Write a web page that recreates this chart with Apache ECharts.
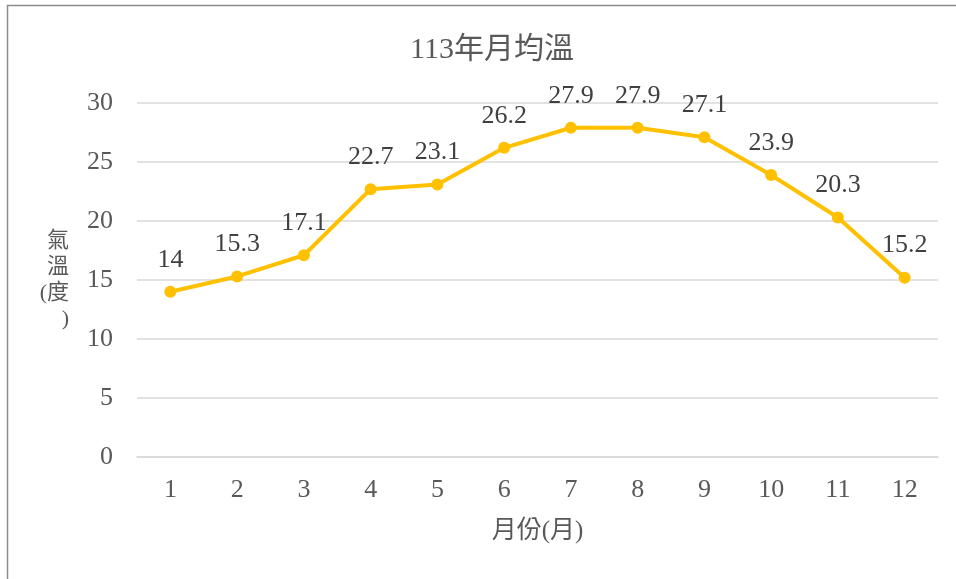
<!DOCTYPE html>
<html><head><meta charset="utf-8">
<script src="https://cdn.jsdelivr.net/npm/echarts@6/dist/echarts.min.js"></script>
<style>html,body{margin:0;padding:0;background:#fff}#c{width:956px;height:579px}</style>
</head><body><div id="c"></div>
<script>
const months = ['1','2','3','4','5','6','7','8','9','10','11','12'];
const temps = [14, 15.3, 17.1, 22.7, 23.1, 26.2, 27.9, 27.9, 27.1, 23.9, 20.3, 15.2];
const titleText = '113年月均溫';
const xName = '月份(月)';
const yName = '氣\n溫\n(度\n)';
const FONT = "'Liberation Serif', 'Noto Sans CJK TC', serif";
const chart = echarts.init(document.getElementById('c'));
chart.setOption({
  animation: false,
  textStyle: {fontFamily: FONT},
  graphic: [{type:'rect', shape:{x:7.5,y:5.5,width:960,height:600}, style:{fill:'none', stroke:'#8c8c8c', lineWidth:1.5}, silent:true}],
  title: {text: titleText, left: 487, top: 30, textAlign:'center',
    textStyle:{fontFamily: FONT, fontSize: 30, fontWeight:'normal', color:'#595959'}},
  grid: {left: 137, right: 18, top: 103, bottom: 122, containLabel:false},
  xAxis: {type:'category', data: months, boundaryGap:true,
    name: xName, nameLocation:'middle', nameGap: 62,
    nameTextStyle:{fontFamily: FONT, fontSize: 25, color:'#595959'},
    axisLine:{lineStyle:{color:'#d9d9d9', width:1.5}}, axisTick:{show:false},
    axisLabel:{fontFamily: FONT, fontSize: 26, color:'#595959', margin: 20}},
  yAxis: {type:'value', min:0, max:30, interval:5,
    name: yName, nameLocation:'middle', nameGap: 68, nameRotate: 0,
    nameTextStyle:{fontFamily: FONT, fontSize: 22, color:'#595959', lineHeight: 26},
    axisLine:{show:false}, axisTick:{show:false},
    axisLabel:{fontFamily: FONT, fontSize: 26, color:'#595959', margin: 24}},
  series: [{type:'line', data: temps, symbol:'circle', symbolSize: 12,
    lineStyle:{color:'#FFC000', width: 4}, itemStyle:{color:'#FFC000'},
    label:{show:true, position:'top', distance: 13, fontFamily: FONT, fontSize: 26, color:'#404040'}}]
});
chart.setOption({yAxis:{splitLine:{lineStyle:{color:'#d9d9d9', width:1.5}}}});
</script></body></html>
